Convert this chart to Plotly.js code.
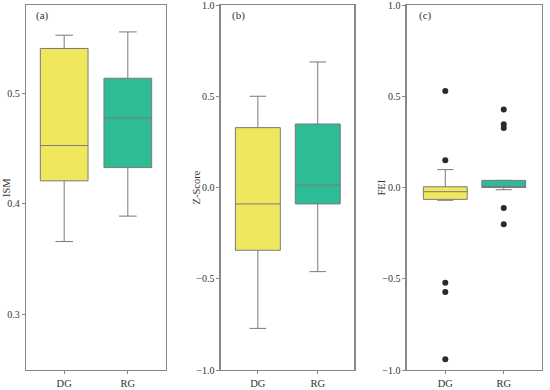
<!DOCTYPE html>
<html><head><meta charset="utf-8">
<script src="https://cdn.plot.ly/plotly-3.0.1.min.js"></script>
<style>body{margin:0;padding:0;background:#fff}#chart{width:550px;height:390px}</style>
</head><body><div id="chart"></div>
<script>
// Categories
const groups = ["DG", "RG"];
const panelLabels = ["(a)", "(b)", "(c)"];
const yTitles = ["ISM", "Z-Score", "FEI"];

// Panel (a) ISM box statistics [DG, RG]
const ismLower  = [0.366, 0.389];
const ismQ1     = [0.421, 0.433];
const ismMedian = [0.453, 0.478];
const ismQ3     = [0.541, 0.514];
const ismUpper  = [0.553, 0.556];

// Panel (b) Z-Score box statistics [DG, RG]
const zLower  = [-0.772, -0.461];
const zQ1     = [-0.344, -0.090];
const zMedian = [-0.090, 0.013];
const zQ3     = [0.328, 0.348];
const zUpper  = [0.500, 0.688];

// Panel (c) FEI box statistics [DG, RG]
const feiLower  = [-0.070, -0.012];
const feiQ1     = [-0.065, 0.000];
const feiMedian = [-0.023, 0.000];
const feiQ3     = [0.004, 0.039];
const feiUpper  = [0.098, 0.039];
const feiOutDG = [0.529, 0.149, -0.522, -0.573, -0.941];
const feiOutRG = [0.428, 0.347, 0.326, -0.112, -0.202];

const colors = ["#EFE75E", "#2DBC95"];
const edge = "#7a7a7a";

const stats = [
  [ismLower, ismQ1, ismMedian, ismQ3, ismUpper],
  [zLower, zQ1, zMedian, zQ3, zUpper],
  [feiLower, feiQ1, feiMedian, feiQ3, feiUpper]
];
const axSuffix = ["", "2", "3"];
const traces = [];
stats.forEach((s, p) => {
  groups.forEach((g, i) => {
    traces.push({
      type: "box", x: [g],
      lowerfence: [s[0][i]], q1: [s[1][i]], median: [s[2][i]], q3: [s[3][i]], upperfence: [s[4][i]],
      fillcolor: colors[i], line: {color: edge, width: 1},
      width: 0.75, whiskerwidth: 0.37, boxpoints: false,
      xaxis: "x" + axSuffix[p], yaxis: "y" + axSuffix[p],
      showlegend: false, hoverinfo: "skip"
    });
  });
});
[[feiOutDG, "DG"], [feiOutRG, "RG"]].forEach(([vals, g]) => {
  traces.push({
    type: "scatter", mode: "markers",
    x: vals.map(() => g), y: vals,
    marker: {color: "#2a2a2a", size: 6},
    xaxis: "x3", yaxis: "y3", showlegend: false, hoverinfo: "skip"
  });
});

const fam = '"Liberation Serif", "Times New Roman", serif';
const font = {family: fam, size: 10.5, color: "#333"};
function xa(domain, range, anchor) {
  return {domain: domain, range: range, anchor: anchor, type: "category", categoryarray: groups,
    showline: true, mirror: true, linecolor: "#888", linewidth: 1.3,
    ticks: "outside", ticklen: 3, tickcolor: "#888", showgrid: false, zeroline: false,
    ticklabeloverflow: "allow",
    tickfont: {family: fam, size: 10.5, color: "#333"}, fixedrange: true};
}
function ya(anchor, range, dtick) {
  return {domain: [0, 1], range: range, anchor: anchor, dtick: dtick,
    tickformat: ".1f", ticklabeloverflow: "allow",
    showline: true, mirror: true, linecolor: "#888", linewidth: 1.3,
    ticks: "outside", ticklen: 3, tickcolor: "#888", showgrid: false, zeroline: false,
    tickfont: {family: fam, size: 10, color: "#333"}};
}

const layout = {
  width: 550, height: 390,
  margin: {l: 0, r: 0, t: 5, b: 20},
  paper_bgcolor: "#fff", plot_bgcolor: "#fff",
  boxmode: "overlay", font: font, showlegend: false,
  xaxis: xa([0.0473, 0.3018], [-0.6, 1.6], "y"),
  xaxis2: xa([0.4013, 0.6442], [-0.62, 1.61], "y2"),
  xaxis3: xa([0.7395, 0.985], [-0.66, 1.65], "y3"),
  yaxis: ya("x", [0.2495, 0.5804], 0.1),
  yaxis2: ya("x2", [-1, 1], 0.5),
  yaxis3: ya("x3", [-1, 1], 0.5),
  annotations: panelLabels.map((t, k) => ({
    text: t, xref: "paper", yref: "paper", x: [34, 230, 417][k] / 550, y: 1 - 11 / 365,
    xanchor: "left", yanchor: "middle", showarrow: false,
    font: {family: fam, size: 11, color: "#333"}
  })).concat(yTitles.map((t, k) => ({
    text: t, xref: "paper", yref: "paper", x: [6.5, 196, 381][k] / 550, y: 0.5,
    xanchor: "center", yanchor: "middle", textangle: -90, showarrow: false,
    font: {family: fam, size: 10.5, color: "#333"}
  })))
};
Plotly.newPlot("chart", traces, layout, {staticPlot: true, displayModeBar: false});
</script></body></html>
